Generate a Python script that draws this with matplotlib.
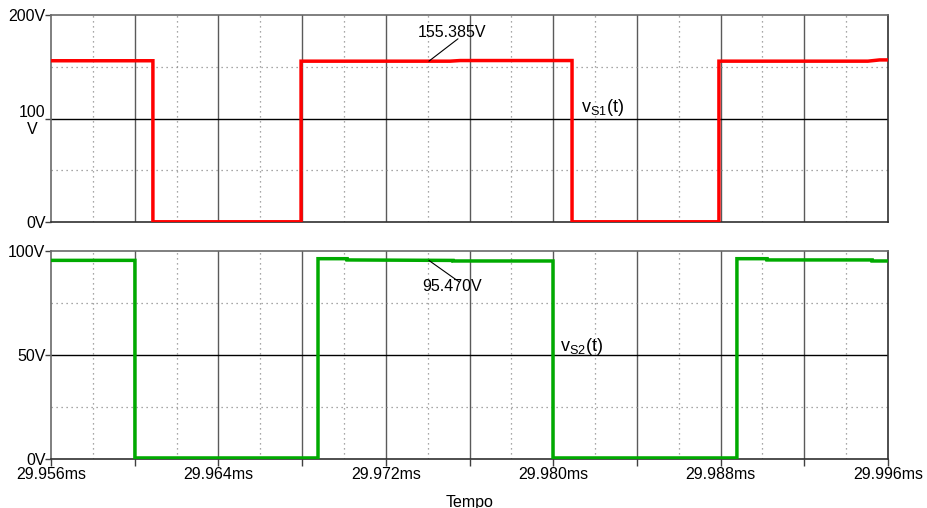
import matplotlib
matplotlib.use("Agg")
import matplotlib.pyplot as plt

plt.rcParams['font.family'] = ['Liberation Sans', 'DejaVu Sans']
plt.rcParams['mathtext.fontset'] = 'custom'
plt.rcParams['mathtext.rm'] = 'Liberation Sans'
plt.rcParams['mathtext.it'] = 'Liberation Sans'

# Switch-voltage waveforms (time in ms, voltage in V)
t_s1 = [29.956, 29.96087, 29.96087, 29.96795, 29.96795, 29.97507, 29.97555,
        29.98090, 29.98090, 29.98792, 29.98792, 29.99504, 29.99560, 29.996]
v_s1 = [155.8, 155.8, 0.2, 0.2, 155.385, 155.385, 156.0,
        156.0, 0.2, 0.2, 155.4, 155.4, 156.6, 156.6]

t_s2 = [29.956, 29.96001, 29.96001, 29.96876, 29.96876, 29.97015, 29.97015,
        29.97521, 29.97521, 29.97999, 29.97999, 29.98878, 29.98878, 29.99022,
        29.99022, 29.99524, 29.99524, 29.996]
v_s2 = [95.5, 95.5, 0.5, 0.5, 96.3, 96.3, 95.7,
        95.47, 95.2, 95.2, 0.5, 0.5, 96.3, 96.3,
        95.7, 95.7, 95.2, 95.2]

x_major = [29.956 + 0.004 * i for i in range(11)]
x_minor = [29.958 + 0.004 * i for i in range(10)]
x_labels = [29.956, 29.964, 29.972, 29.980, 29.988, 29.996]

marker_s1 = (29.97406, 155.385)
marker_s2 = (29.97406, 95.470)

fig = plt.figure(figsize=(9.27, 5.08), dpi=100)
ax1 = fig.add_axes([51 / 927, 1 - 222 / 508, 837 / 927, 207 / 508])
ax2 = fig.add_axes([51 / 927, 1 - 459 / 508, 837 / 927, 208 / 508])

FS = 11.5
grid_major = dict(color='#5a5a5a', lw=1.0, zorder=1)
grid_minor = dict(color='#8a8a8a', lw=0.9, ls=(0, (1, 3)), zorder=1)


def style_axes(ax, ymax, yticks, ylabels):
    ax.set_xlim(29.956, 29.996)
    ax.set_ylim(0, ymax)
    for x in x_major[1:-1]:
        ax.axvline(x, **grid_major)
    for x in x_minor:
        ax.axvline(x, **grid_minor)
    ax.axhline(ymax / 2, color='black', lw=1.0, zorder=1)
    for y in (ymax / 4, 3 * ymax / 4):
        ax.axhline(y, **grid_minor)
    for side, col in (('top', '#6a6a6a'), ('left', '#6a6a6a'),
                      ('right', '#303030'), ('bottom', '#303030')):
        ax.spines[side].set_color(col)
        ax.spines[side].set_linewidth(1.2)
    ax.set_yticks(yticks)
    ax.set_yticklabels(ylabels, fontsize=FS)
    ax.tick_params(axis='y', length=4, width=1, pad=0, color='#404040')
    for lab in ax.get_yticklabels():
        lab.set_multialignment('center')


style_axes(ax1, 200, [0, 100, 200], ['0V', '100\nV', '200V'])
style_axes(ax2, 100, [0, 50, 100], ['0V', '50V', '100V'])

ax1.set_xticks(x_major)
ax1.tick_params(axis='x', length=0, labelbottom=False)
ax2.set_xticks(x_major)
ax2.set_xticklabels([f"{x:.3f}ms" if any(abs(x - l) < 1e-9 for l in x_labels) else ''
                     for x in x_major], fontsize=FS)
ax2.tick_params(axis='x', length=5, width=1, pad=1, color='#404040')
ax2.set_xlabel('Tempo', fontsize=FS, labelpad=9)

ax1.plot(t_s1, v_s1, color='#ff0000', lw=2.5, zorder=3, solid_joinstyle='miter')
ax2.plot(t_s2, v_s2, color='#00aa00', lw=2.5, zorder=3, solid_joinstyle='miter')

# Cursor readouts
ax1.annotate('', xy=marker_s1, xytext=(29.97545, 177),
             arrowprops=dict(arrowstyle='-', lw=0.8, color='black', shrinkA=0, shrinkB=0),
             zorder=4)
ax1.text(29.97516, 183, f"{marker_s1[1]:.3f}V", fontsize=FS, ha='center', va='center')
ax2.annotate('', xy=marker_s2, xytext=(29.97550, 85.2),
             arrowprops=dict(arrowstyle='-', lw=0.8, color='black', shrinkA=0, shrinkB=0),
             zorder=4)
ax2.text(29.97516, 82.7, f"{marker_s2[1]:.3f}V", fontsize=FS, ha='center', va='center')

ax1.text(29.98133, 111, r'$\mathrm{v_{S1}(t)}$', fontsize=13, ha='left', va='center')
ax2.text(29.98032, 54.3, r'$\mathrm{v_{S2}(t)}$', fontsize=13, ha='left', va='center')

fig.savefig('out.png', dpi=100)
